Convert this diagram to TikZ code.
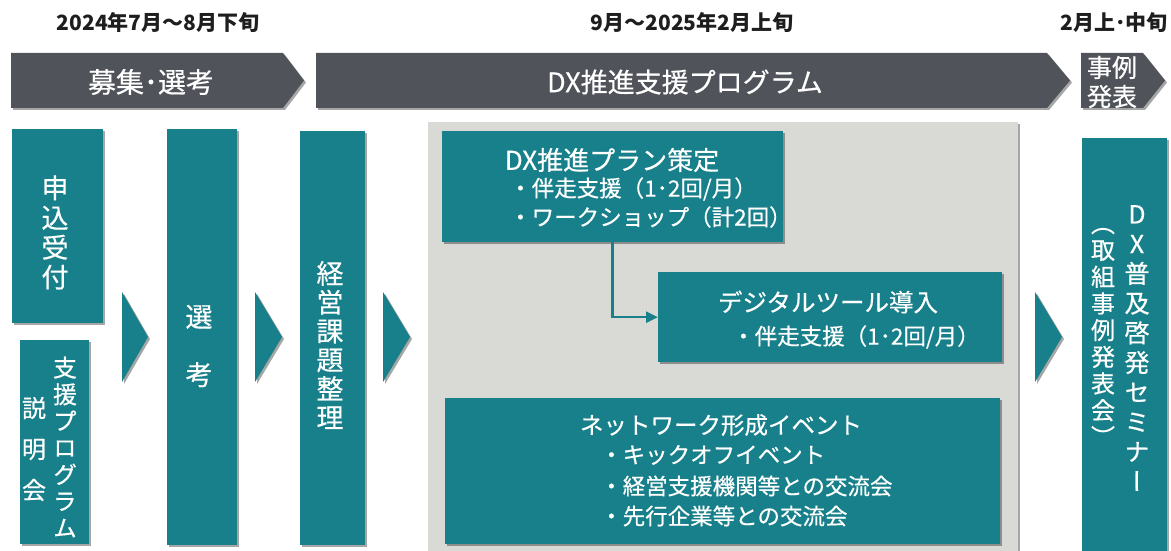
\documentclass[tikz,border=0pt]{standalone}
\usepackage{fontspec}
\setmainfont{Noto Sans CJK JP}
\newfontfamily\mfont{Noto Sans CJK JP}[FakeBold=0.45]
\newfontfamily\vfont{Noto Sans CJK JP}[RawFeature=+vert,FakeBold=0.45]
\usetikzlibrary{shadows,arrows.meta}
\definecolor{tealbox}{HTML}{17808A}
\definecolor{barcol}{HTML}{505359}
\definecolor{panelcol}{HTML}{D9D9D6}
\definecolor{datecol}{HTML}{1E1E1E}
\tikzset{
  shad/.style={drop shadow={shadow xshift=2pt,shadow yshift=-2pt,opacity=0.35,fill=black}},
  tbox/.style={fill=tealbox,inner sep=0pt,anchor=north west,shad},
  hbar/.style={fill=barcol,shad},
  tri/.style={fill=tealbox,shad},
  datelbl/.style={text=datecol,inner sep=0pt,font=\bfseries\fontsize{21}{24}\selectfont},
  barlbl/.style={text=white,inner sep=0pt,align=center},
  ttl/.style={text=white,inner sep=0pt},
  itm/.style={text=white,inner sep=0pt,anchor=west,font=\mfont\fontsize{22.5}{26}\selectfont},
  vtxt/.style={text=white,inner sep=0pt,align=center},
  conn/.style={draw=tealbox,line width=2.5pt,-{Triangle[length=12pt,width=11pt]}}
}
\begin{document}
\begin{tikzpicture}[x=1pt,y=-1pt]
\useasboundingbox (0,0) rectangle (1171,551);
\fill[white] (0,0) rectangle (1171,551);

% dates
\node[datelbl] (d1) at (158,23) {2024年7月～8月下旬};
\node[datelbl] (d2) at (692,23) {9月～2025年2月上旬};
\node[datelbl] (d3) at (1114,23) {2月上･中旬};

% header bars
\fill[hbar] (11,53) -- (283,53) -- (304,80.5) -- (283,108) -- (11,108) -- cycle;
\fill[hbar] (316,53) -- (1047,53) -- (1070,80.5) -- (1047,108) -- (316,108) -- cycle;
\fill[hbar] (1081,53) -- (1143,53) -- (1165,80.5) -- (1143,108) -- (1081,108) -- cycle;
\node[barlbl,font=\mfont\fontsize{28}{30}\selectfont] (b1) at (151,82) {募集･選考};
\node[barlbl,font=\mfont\fontsize{27}{30}\selectfont] (b2) at (685,82) {DX推進支援プログラム};
\node[barlbl,font=\mfont\fontsize{25}{29}\selectfont] (b3) at (1112,82) {事例\\発表};

% gray panel
\fill[panelcol,shad] (428,122) rectangle (1018,555);

% left boxes
\node[tbox,minimum width=91pt,minimum height=194pt] (apply) at (12,129) {};
\node[tbox,minimum width=69pt,minimum height=204pt] (brief) at (20,340) {};
\node[tbox,minimum width=70pt,minimum height=416pt] (select) at (167,129) {};
\node[tbox,minimum width=65pt,minimum height=414pt] (issue) at (300,131) {};

\node[vtxt,font=\vfont\fontsize{27}{29.7}\selectfont] (applyt) at (55,232.5) {申\\込\\受\\付};
\node[vtxt,font=\vfont\fontsize{24}{26.7}\selectfont] (brieft1) at (65,447) {支\\援\\プ\\ロ\\グ\\ラ\\ム};
\node[vtxt,font=\vfont\fontsize{24}{41}\selectfont] (brieft2) at (34,449) {説\\明\\会};
\node[vtxt,font=\vfont\fontsize{27}{58}\selectfont] (selectt) at (199,346) {選\\考};
\node[vtxt,font=\vfont\fontsize{27}{28.8}\selectfont] (issuet) at (330,345) {経\\営\\課\\題\\整\\理};

% triangles
\fill[tri] (122,292) -- (148,337) -- (122,382) -- cycle;
\fill[tri] (255,292) -- (282,337) -- (255,382) -- cycle;
\fill[tri] (383,292) -- (410,337) -- (383,382) -- cycle;
\fill[tri] (1035,292) -- (1062,337) -- (1035,382) -- cycle;

% program boxes
\node[tbox,minimum width=341pt,minimum height=111pt] (plan) at (442,131) {};
\node[tbox,minimum width=344pt,minimum height=90pt] (tool) at (658,272) {};
\node[tbox,minimum width=555pt,minimum height=146pt] (net) at (445,398) {};

\node[ttl,font=\mfont\fontsize{26}{30}\selectfont] (plant) at (612,160) {DX推進プラン策定};
\node[itm] (plani1) at (509,189) {・伴走支援（1･2回/月）};
\node[itm] (plani2) at (509,217) {・ワークショップ（計2回）};

\node[ttl,font=\mfont\fontsize{24.5}{28}\selectfont] (toolt) at (828,302) {デジタルツール導入};
\node[itm] (tooli1) at (732,337) {・伴走支援（1･2回/月）};

\node[ttl,font=\mfont\fontsize{23.5}{28}\selectfont] (nett) at (721,425) {ネットワーク形成イベント};
\node[itm] (neti1) at (600,455) {・キックオフイベント};
\node[itm] (neti2) at (600,486) {・経営支援機関等との交流会};
\node[itm] (neti3) at (600,516) {・先行企業等との交流会};

\draw[conn] (plan.south) |- (tool.west);

% seminar box
\node[tbox,minimum width=85pt,minimum height=420pt] (sem) at (1082,138) {};
\node[vtxt,font=\vfont\fontsize{25}{29.7}\selectfont] (semt1) at (1137,348) {D\\X\\普\\及\\啓\\発\\セ\\ミ\\ナ\\ー};
\node[vtxt,font=\vfont\fontsize{24}{26.7}\selectfont] (semt2) at (1103,337) {（\\取\\組\\事\\例\\発\\表\\会\\）};
\end{tikzpicture}
\end{document}
